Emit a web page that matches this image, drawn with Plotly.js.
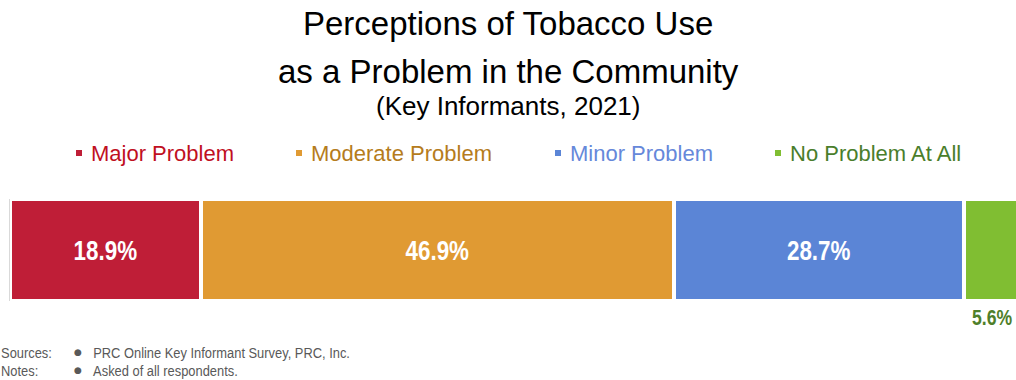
<!DOCTYPE html>
<html>
<head>
<meta charset="utf-8">
<script src="https://cdn.plot.ly/plotly-3.0.1.min.js"></script>
<style>html,body{margin:0;padding:0;overflow:hidden;background:#fff}#chart{width:1016px;height:380px}</style>
</head>
<body>
<div id="chart"></div>
<script>
// ---- data ----
const categories = ["Major Problem", "Moderate Problem", "Minor Problem", "No Problem At All"];
const values = [18.9, 46.9, 28.7, 5.6];
const barColors = ["#BF1E37", "#E09A33", "#5B85D6", "#80BE32"];
const legendTextColors = ["#C0101F", "#B57C1C", "#6688DA", "#4A7E2C"];
const titleLines = ["Perceptions of Tobacco Use", "as a Problem in the Community", "(Key Informants, 2021)"];
const footerLabels = ["Sources:", "Notes:"];
const footerTexts = ["PRC Online Key Informant Survey, PRC, Inc.", "Asked of all respondents."];

// ---- layout helpers (pixel -> paper) ----
const W = 1016, H = 380;
const M = {l: 10, r: 0, t: 199, b: 79};
const plotW = W - M.l - M.r, plotH = H - M.t - M.b;
const px = x => (x - M.l) / plotW;
const py = y => (H - M.b - y) / plotH;

const narrow = "Liberation Sans Narrow, Arial Narrow, Liberation Sans, Arial, sans-serif";
const sans = "Liberation Sans, Arial, sans-serif";

const traces = categories.map((c, i) => ({
  type: "bar",
  orientation: "h",
  name: c,
  x: [values[i]],
  y: [""],
  width: 1,
  marker: {color: barColors[i], line: {color: "#ffffff", width: 4}},
  text: [values[i].toFixed(1) + "%"],
  textposition: i < values.length - 1 ? "inside" : "none",
  insidetextanchor: "middle",
  textfont: {family: narrow, size: 28, color: "#ffffff", weight: "bold"},
  hoverinfo: "skip",
  cliponaxis: true
}));

const annotations = [];
const titleSizes = [33, 33, 26];
const titleY = [23, 71, 106];
titleLines.forEach((t, i) => annotations.push({
  xref: "paper", yref: "paper", x: px(W / 2), y: py(titleY[i]),
  xanchor: "center", yanchor: "middle", showarrow: false,
  text: t, font: {family: sans, size: titleSizes[i], color: "#000000"}
}));

// legend
const legendMarkX = [79, 299, 558, 778];
const legendTextX = [89, 309, 568, 788];
const shapes = [];
categories.forEach((c, i) => {
  shapes.push({type: "rect", xref: "paper", yref: "paper",
    x0: px(legendMarkX[i] - 3), x1: px(legendMarkX[i] + 3),
    y0: py(156), y1: py(150), fillcolor: barColors[i], line: {width: 0}});
  annotations.push({xref: "paper", yref: "paper", x: px(legendTextX[i]), y: py(153),
    xanchor: "left", yanchor: "middle", showarrow: false, text: c,
    font: {family: sans, size: 22, color: legendTextColors[i]}});
});

// label for the last (small) segment, below the bar
const last = values.length - 1;
const cumBefore = values.slice(0, last).reduce((a, b) => a + b, 0);
annotations.push({xref: "x", yref: "paper", x: cumBefore + values[last] / 2, y: py(317),
  xanchor: "center", yanchor: "middle", showarrow: false,
  text: "<b>" + values[last].toFixed(1) + "%</b>",
  font: {family: narrow, size: 22, color: "#4F7F2A"}});

// footer
const footerY = [352, 370];
footerLabels.forEach((lab, i) => {
  annotations.push({xref: "paper", yref: "paper", x: px(-1), y: py(footerY[i]),
    xanchor: "left", yanchor: "middle", showarrow: false, text: lab,
    font: {family: narrow, size: 15, color: "#595959"}});
  annotations.push({xref: "paper", yref: "paper", x: px(78), y: py(footerY[i]),
    xanchor: "center", yanchor: "middle", showarrow: false, text: "●",
    font: {family: "DejaVu Sans, sans-serif", size: 9, color: "#595959"}});
  annotations.push({xref: "paper", yref: "paper", x: px(91), y: py(footerY[i]),
    xanchor: "left", yanchor: "middle", showarrow: false, text: footerTexts[i],
    font: {family: narrow, size: 15, color: "#595959"}});
});

const layout = {
  width: W, height: H,
  margin: M,
  barmode: "stack",
  bargap: 0,
  showlegend: false,
  paper_bgcolor: "#ffffff",
  plot_bgcolor: "#ffffff",
  xaxis: {range: [0, 99.7], showgrid: false, zeroline: false, showticklabels: false, ticks: "", showline: false},
  yaxis: {range: [-0.5, 0.5], showgrid: false, zeroline: false, showticklabels: false, ticks: "",
    showline: true, linecolor: "#D9D9D9", linewidth: 1},
  annotations: annotations,
  shapes: shapes,
  uniformtext: {mode: false}
};

// emulate a condensed face (no narrow font installed): squeeze those texts horizontally
function condense() {
  const svgNS = "http://www.w3.org/2000/svg";
  document.querySelectorAll("#chart text").forEach(el => {
    const fam = el.style.fontFamily || "";
    if (!fam.includes("Narrow") || el.parentNode.getAttribute("data-cond")) return;
    const size = parseFloat(el.style.fontSize) || 15;
    const s = size >= 20 ? 0.8 : 0.86;
    const anchorLeft = size < 20;
    const g = document.createElementNS(svgNS, "g");
    g.setAttribute("data-cond", "1");
    el.parentNode.insertBefore(g, el);
    g.appendChild(el);
    const bb = g.getBBox();
    const ax = anchorLeft ? bb.x : bb.x + bb.width / 2;
    g.setAttribute("transform", `translate(${ax},0) scale(${s},1) translate(${-ax},0)`);
  });
}

Plotly.newPlot("chart", traces, layout, {displayModeBar: false, staticPlot: true}).then(condense);
</script>
</body>
</html>
